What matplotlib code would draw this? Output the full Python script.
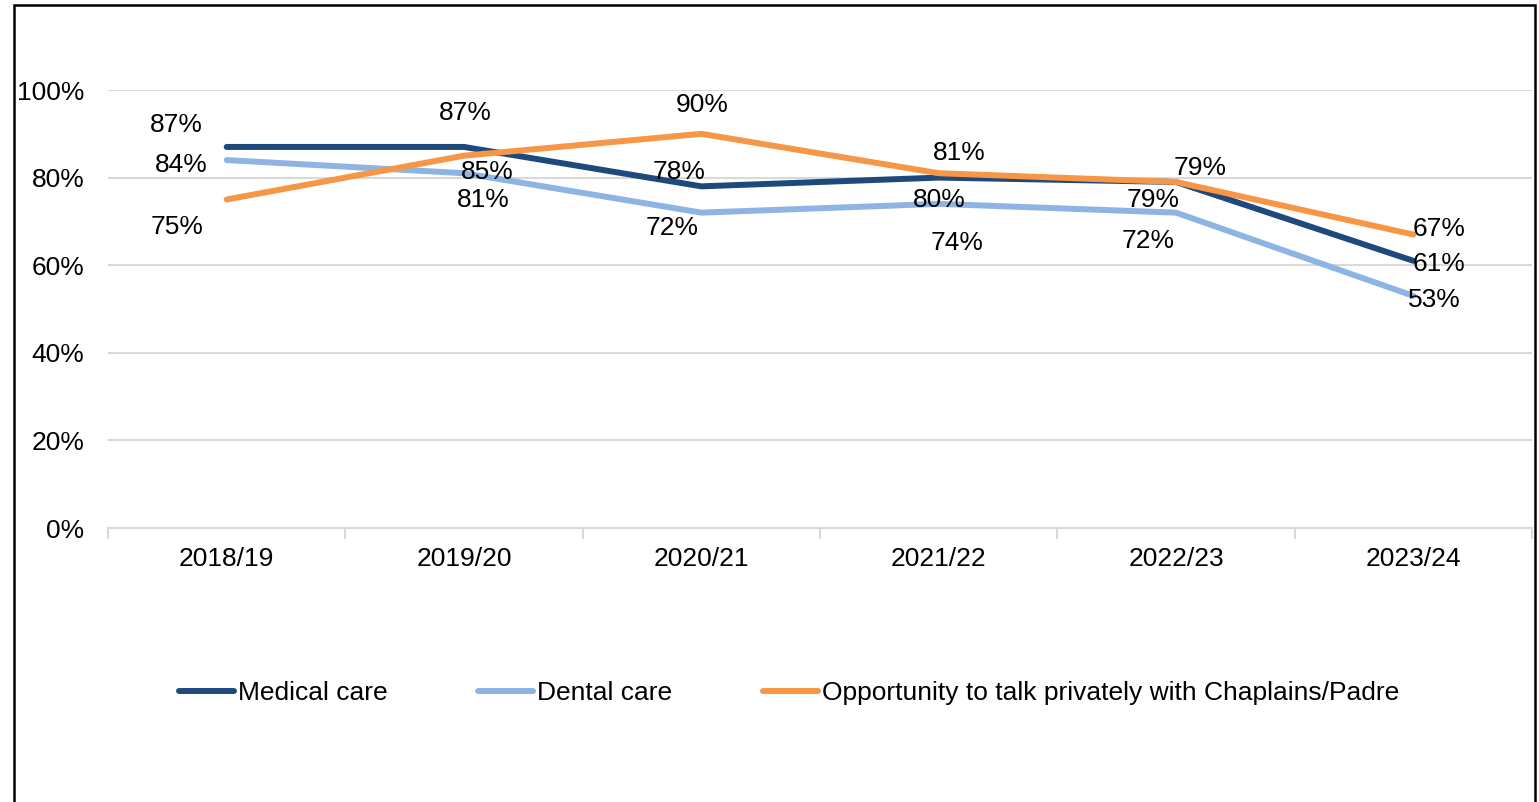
import matplotlib
matplotlib.use("Agg")
import matplotlib.pyplot as plt
from matplotlib.patches import Rectangle
from matplotlib.ticker import FixedLocator, PercentFormatter

plt.rcParams['font.family'] = ['Liberation Sans', 'DejaVu Sans']

# Survey years and satisfaction shares (%)
years = ["2018/19", "2019/20", "2020/21", "2021/22", "2022/23", "2023/24"]
medical = [87, 87, 78, 80, 79, 61]
dental = [84, 81, 72, 74, 72, 53]
chaplain = [75, 85, 90, 81, 79, 67]
series_names = ["Medical care", "Dental care",
                "Opportunity to talk privately with Chaplains/Padre"]
y_ticks = [0, 20, 40, 60, 80, 100]

colors = ["#1f497d", "#8db4e2", "#f79646"]

# Label placement (pixel offsets from each point) to keep labels apart
label_offsets = [
    [(-50, 22), (1, 34), (-22, 14), (1, -22), (-23, -18), (26, -3)],
    [(-45, -5), (19, -27), (-29, -15), (18, -39), (-28, -28), (21, -4)],
    [(-50, -28), (23, -16), (1, 29), (21, 20), (24, 14), (26, 6)],
]

FS = 19
W, H = 1539, 802
fig = plt.figure(figsize=(W / 100, H / 100), dpi=100)

# Outer chart border
fig.patches.append(Rectangle((14 / W, -0.05), (1535 - 14) / W, 1.05 - 5 / H,
                             transform=fig.transFigure, fill=False,
                             edgecolor="black", linewidth=1.8, zorder=0))

ax = fig.add_axes([108 / W, (H - 528) / H, (1532 - 108) / W, (528 - 90) / H])

x = list(range(len(years)))
for vals, name, col, offs in zip([medical, dental, chaplain], series_names,
                                 colors, label_offsets):
    ax.plot(x, vals, color=col, linewidth=4.3, solid_capstyle="round",
            label=name, zorder=3)
    for xi, v, (dx, dy) in zip(x, vals, offs):
        ax.annotate(f"{v}%", (xi, v), xytext=(dx, dy),
                    textcoords="offset pixels", ha="center", va="center",
                    fontsize=FS, color="black", zorder=4)

ax.set_xlim(-0.5, len(years) - 0.5)
ax.set_ylim(0, 100)
ax.set_yticks(y_ticks)
ax.yaxis.set_major_formatter(PercentFormatter(decimals=0))
ax.tick_params(axis="y", length=0, pad=17, labelsize=FS)
ax.grid(axis="y", color="#d9d9d9", linewidth=1.5)
ax.set_axisbelow(True)

ax.set_xticks(x)
ax.set_xticklabels(years)
ax.xaxis.set_minor_locator(FixedLocator([i - 0.5 for i in range(len(years) + 1)]))
ax.tick_params(axis="x", which="major", length=0, pad=14, labelsize=FS)
ax.tick_params(axis="x", which="minor", length=8, width=1.5, color="#d9d9d9")

for side in ["left", "right", "top"]:
    ax.spines[side].set_visible(False)
ax.spines["bottom"].set_color("#d9d9d9")
ax.spines["bottom"].set_linewidth(1.5)

fig.legend(loc="center", bbox_to_anchor=(789 / W, 1 - 693 / H), ncol=3,
           frameon=False, fontsize=19, handlelength=2.08,
           handletextpad=0.15, columnspacing=3.45)

fig.savefig("out.png", dpi=100)
